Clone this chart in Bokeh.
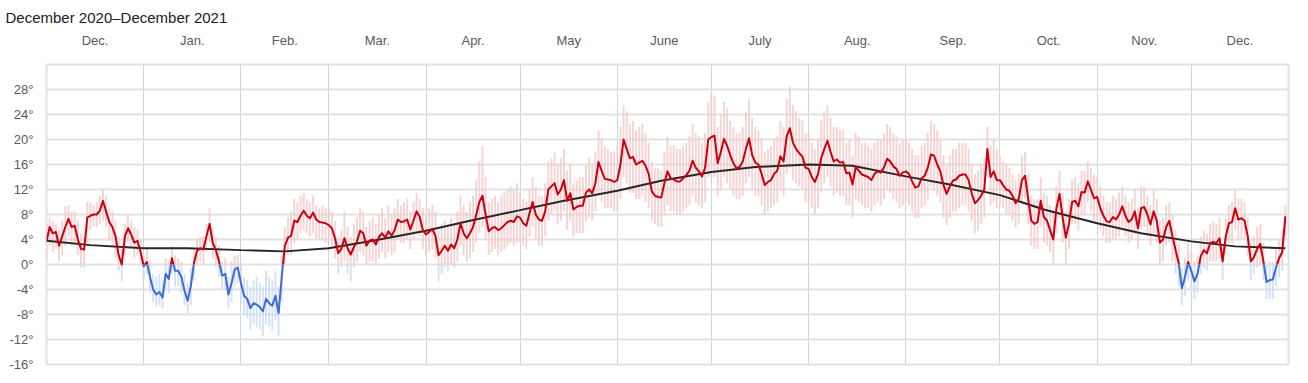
from bokeh.plotting import figure
from bokeh.models import (FixedTicker, PrintfTickFormatter, CustomJSTickFormatter, Range1d)
from bokeh.embed import file_html
from bokeh.resources import INLINE

# ---------------- data (daily, 1 Dec 2020 = day 0) ----------------
month_names = ["Dec.", "Jan.", "Feb.", "Mar.", "Apr.", "May", "June", "July",
               "Aug.", "Sep.", "Oct.", "Nov.", "Dec."]
month_lengths = [31, 31, 28, 31, 30, 31, 30, 31, 31, 30, 31, 30, 31]

mean_dec20 = [3.7,6.0,5.0,5.2,3.0,4.5,6.0,7.3,6.0,6.2,4.0,2.5,2.4,7.5,7.8,8.0,8.0,8.6,10.2,8.5,6.8,6.0,4.5,1.5,0.0,4.5,5.8,4.8,3.5,3.8,2.0]
mean_jan21 = [-0.3,0.4,-2.0,-4.0,-4.8,-4.4,-5.3,-1.5,-2.3,1.0,-1.0,-1.0,-2.0,-4.2,-5.8,-3.5,0.2,2.2,2.6,2.4,4.5,6.5,3.5,2.3,0.5,-1.8,-1.5,-4.8,-3.0,-0.8,-0.5]
mean_feb21 = [-3.0,-5.0,-5.5,-7.0,-6.2,-6.4,-6.8,-7.5,-5.5,-6.2,-6.6,-5.0,-7.8,-2.0,3.0,4.3,4.6,7.0,6.8,7.8,8.6,7.8,7.4,8.3,7.2,6.8,6.7,6.6]
mean_mar21 = [6.3,5.8,4.2,1.8,2.5,4.2,2.6,1.6,2.8,3.7,5.4,5.0,3.0,3.8,4.0,3.2,4.4,5.0,4.3,5.3,4.6,5.5,7.2,6.8,6.9,7.2,5.6,7.0,8.5,7.6,5.5]
mean_apr21 = [4.8,5.2,5.7,4.6,1.5,2.2,3.0,2.2,3.2,2.6,4.0,6.6,5.0,4.2,5.0,6.0,7.9,10.0,11.0,8.0,5.3,5.8,6.0,5.5,5.8,6.3,6.8,7.0,6.8,7.7]
mean_may21 = [7.5,6.6,6.2,8.2,10.0,8.0,7.2,7.0,8.5,12.0,12.5,13.0,11.2,12.0,13.5,10.2,11.4,8.8,9.2,9.4,9.4,11.5,12.0,11.4,13.0,16.4,15.0,13.7,13.6,13.5,13.2]
mean_jun21 = [13.5,16.0,20.0,18.5,17.0,17.2,16.0,16.3,16.6,15.8,14.5,11.7,11.0,10.8,10.7,13.0,14.9,13.8,13.6,13.3,13.3,13.8,14.3,15.0,16.6,15.5,14.9,14.1,15.5,20.0]
mean_jul21 = [20.4,20.6,16.2,18.0,20.1,19.0,17.5,16.2,15.4,15.6,16.5,18.5,20.2,17.5,16.3,16.0,14.5,12.7,13.2,13.5,14.5,15.0,17.3,16.5,20.5,21.8,19.5,18.5,17.8,17.3,15.5]
mean_aug21 = [15.3,14.0,13.2,14.5,17.0,18.5,19.8,18.0,16.5,16.8,16.3,16.4,14.6,14.7,12.8,15.6,15.0,14.4,14.2,14.0,13.5,14.5,14.9,14.7,15.5,16.9,16.5,15.7,15.3,14.2,14.7]
mean_sep21 = [14.9,14.5,13.3,12.3,12.5,13.8,14.2,15.5,17.6,17.4,16.0,14.9,12.7,11.3,12.5,13.4,13.6,14.2,14.4,14.4,13.5,11.4,9.8,10.3,11.0,12.0,18.5,14.0,14.9,13.5]
mean_oct21 = [13.5,12.7,12.0,11.8,11.0,9.8,10.5,13.5,14.2,10.5,7.0,6.5,6.8,10.2,7.6,7.0,5.5,4.0,9.0,11.3,7.5,4.3,6.5,10.0,10.2,9.3,11.6,11.5,13.3,12.0,10.6]
mean_nov21 = [10.8,9.0,7.8,6.9,6.8,7.6,7.2,8.0,9.3,7.8,6.8,7.2,8.5,5.8,9.0,9.2,8.0,6.4,8.5,7.0,3.5,4.0,6.0,7.0,4.5,2.3,0.2,-3.8,-2.0,0.4]
mean_dec21 = [-1.0,-2.7,-1.5,1.3,2.3,1.8,3.4,3.6,3.4,4.2,0.5,4.5,6.6,6.8,9.0,7.2,7.4,7.0,4.5,0.5,1.2,2.5,3.3,0.5,-2.8,-2.5,-2.4,-0.5,1.0,2.0,7.7]

high_dec20 = [6.5,7.5,7.0,6.5,5.5,7.0,9.3,9.5,8.5,8.5,7.0,5.0,4.5,10.0,10.0,9.5,10.0,11.0,12.0,11.0,9.0,8.5,7.0,4.5,2.5,6.5,8.0,7.0,6.0,5.5,4.0]
low_dec20 = [1.0,3.0,2.0,2.5,0.5,1.5,3.0,4.5,3.0,3.0,1.5,-0.5,-0.6,3.5,5.5,6.0,6.0,6.5,7.0,6.0,4.0,3.0,1.0,-1.0,-2.7,1.5,3.5,2.5,1.0,1.5,0.0]
high_jan21 = [1.5,2.5,0.5,-1.5,-2.0,-1.5,-2.5,1.0,0.5,3.0,1.5,1.0,0.5,-1.5,-3.0,-0.5,2.5,4.0,4.5,4.5,6.5,9.0,6.0,4.5,3.0,0.5,1.0,-2.0,0.5,1.5,1.5]
low_jan21 = [-2.5,-1.5,-4.5,-6.0,-6.8,-6.5,-7.0,-4.0,-4.5,-1.5,-3.5,-3.5,-4.5,-6.5,-7.8,-6.5,-2.5,0.0,0.5,0.0,2.0,3.5,1.0,-0.5,-2.0,-4.0,-4.0,-7.0,-6.0,-3.5,-3.0]
high_feb21 = [0.0,-2.0,-2.5,-3.5,-2.5,-2.0,-3.0,-3.5,-1.0,-2.0,-2.5,-1.0,-3.5,1.5,6.0,7.5,8.5,10.5,10.0,11.0,11.5,10.5,10.0,11.0,9.5,9.0,9.5,9.0]
low_feb21 = [-6.5,-8.0,-8.5,-10.5,-9.5,-10.0,-10.5,-11.5,-9.5,-10.0,-10.5,-9.0,-11.5,-6.0,0.0,1.5,1.5,3.5,4.0,5.0,5.5,5.0,4.5,5.0,4.0,4.0,4.0,3.5]
high_mar21 = [9.0,8.5,7.0,4.5,5.5,8.5,6.0,4.5,6.5,7.5,9.0,8.5,6.0,7.0,7.5,6.5,8.0,9.0,7.5,9.5,8.0,9.0,10.5,9.5,10.0,10.5,8.5,10.0,11.5,10.5,9.0]
low_mar21 = [3.5,3.0,1.0,-1.5,-0.5,0.5,-1.5,-2.7,-0.5,0.5,2.0,1.5,0.0,0.5,0.5,0.0,1.0,2.0,1.0,2.0,1.5,2.0,4.0,3.5,3.5,4.0,2.5,4.0,5.0,4.5,2.5]
high_apr21 = [8.0,9.0,9.5,8.5,5.5,6.5,7.0,6.0,7.5,6.5,8.5,11.0,9.5,8.5,10.0,11.0,13.5,16.5,19.0,14.0,10.0,10.5,11.0,10.0,11.0,11.5,12.0,12.5,12.0,13.0]
low_apr21 = [1.5,2.0,2.5,1.0,-2.7,-1.5,-0.5,-1.0,0.0,-0.5,0.5,3.0,1.5,0.5,1.0,2.0,3.5,5.0,6.0,4.0,1.5,2.0,2.5,1.5,2.0,2.5,3.0,3.5,3.0,3.5]
high_may21 = [11.5,10.5,10.0,12.0,14.0,12.5,11.0,11.0,13.0,16.5,17.0,18.0,16.0,17.0,18.5,15.0,16.0,13.0,13.5,14.0,14.0,16.0,17.0,16.0,18.0,21.5,20.0,19.0,18.5,18.0,18.0]
low_may21 = [3.5,3.0,2.5,4.5,6.0,4.0,3.0,3.0,4.5,7.0,8.0,8.5,6.5,7.0,8.5,5.5,7.0,4.5,5.0,5.0,5.0,7.0,7.5,7.0,8.5,11.0,10.0,9.0,9.0,9.0,8.5]
high_jun21 = [19.0,22.0,25.5,24.5,22.5,23.0,21.5,22.0,22.5,21.0,19.5,16.5,15.5,15.5,15.0,18.0,20.5,19.0,19.0,18.5,18.5,19.0,19.5,20.5,22.5,21.0,20.5,19.5,21.0,26.0]
low_jun21 = [8.5,10.5,14.0,13.0,11.5,11.5,10.5,10.5,11.0,10.0,9.0,7.0,6.5,6.0,6.0,8.0,9.5,8.5,8.5,8.0,8.0,8.5,9.0,9.5,11.0,10.0,9.5,9.0,10.0,14.0]
high_jul21 = [27.5,27.0,22.0,24.0,26.0,25.0,23.0,22.0,21.0,21.0,22.0,24.5,26.5,23.5,22.0,21.5,20.0,18.0,18.5,19.0,20.0,20.5,23.0,22.0,26.5,28.5,25.5,24.5,23.5,23.0,21.0]
low_jul21 = [14.0,14.0,11.0,12.0,14.0,13.0,12.0,11.0,10.5,10.5,11.0,13.0,14.0,12.0,11.0,11.0,9.5,8.0,8.5,9.0,9.5,10.0,12.0,11.0,14.5,15.5,13.5,13.0,12.5,12.0,10.0]
high_aug21 = [21.0,19.5,18.5,20.0,23.0,24.5,25.5,23.5,22.0,22.0,21.5,21.5,19.5,20.0,17.5,21.0,20.5,19.5,19.5,19.0,18.5,19.5,20.0,20.0,21.0,22.5,22.0,21.0,20.5,19.5,20.0]
low_aug21 = [10.0,9.0,8.0,9.0,11.5,13.0,14.0,12.5,11.0,11.5,11.0,11.0,9.5,9.5,7.5,10.5,10.0,9.5,9.0,9.0,8.5,9.5,10.0,9.5,10.5,12.0,11.5,10.5,10.0,9.0,9.5]
high_sep21 = [20.0,19.5,18.5,17.5,17.5,19.0,19.5,21.0,23.0,22.5,21.5,20.0,17.5,16.0,17.5,18.5,18.5,19.5,19.5,19.5,18.5,16.0,14.5,15.0,16.0,17.0,22.0,19.0,20.0,18.5]
low_sep21 = [10.0,9.5,8.5,7.5,7.5,9.0,9.5,10.5,12.5,12.0,11.0,10.0,7.5,6.3,7.5,8.5,8.5,9.0,9.5,9.5,8.5,7.0,5.0,5.5,6.5,7.5,14.0,9.5,10.0,9.0]
high_oct21 = [17.5,16.5,16.0,15.5,14.5,13.5,14.5,17.5,18.0,14.5,11.0,10.5,10.5,14.0,11.5,11.0,9.5,8.5,12.5,15.0,11.5,8.5,10.5,13.5,14.0,13.0,15.0,15.0,16.5,15.5,14.5]
low_oct21 = [9.5,9.0,8.0,8.0,7.0,6.0,6.5,9.5,10.5,6.5,3.0,2.5,2.5,6.0,3.5,3.0,2.0,0.0,5.0,7.5,3.5,0.0,2.5,6.5,6.5,5.5,8.0,8.0,10.0,8.5,7.0]
high_nov21 = [14.0,12.5,11.0,10.0,10.0,11.0,10.5,11.5,12.5,11.0,10.0,10.5,12.0,9.0,12.5,12.5,11.0,9.5,12.0,10.5,7.0,7.5,9.5,10.0,8.0,5.5,3.5,-0.5,1.0,3.5]
low_nov21 = [7.0,5.5,4.5,3.5,3.5,4.0,4.0,4.5,6.0,4.5,3.5,4.0,5.0,2.5,5.5,6.0,4.5,3.0,5.0,3.5,0.0,0.5,3.0,3.5,0.5,-1.5,-3.5,-6.5,-5.0,-2.5]
high_dec21 = [2.0,0.5,1.5,4.5,5.5,5.0,6.5,7.0,6.5,7.5,3.5,7.5,9.5,10.0,12.0,10.5,10.5,10.0,7.5,3.5,4.5,6.0,6.5,3.5,0.0,0.5,0.5,2.5,4.0,5.5,9.5]
low_dec21 = [-4.0,-5.5,-4.5,-1.5,-0.5,-1.0,0.5,0.5,0.5,1.0,-2.5,1.5,3.5,3.5,5.5,4.0,4.0,4.0,1.5,-2.5,-1.5,-0.5,0.0,-2.5,-5.5,-5.5,-5.5,-3.5,-2.0,-1.0,4.5]

# normal temperature, read twice a month
normal_days = [0, 14, 31, 45, 62, 76, 90, 104, 121, 135, 151, 165, 182, 196, 212, 226,
               243, 257, 274, 288, 304, 318, 335, 349, 365, 379, 395]
normal_vals = [3.8, 3.1, 2.6, 2.6, 2.3, 2.1, 2.6, 3.8, 5.4, 7.0, 8.7, 10.2, 11.8, 13.4, 14.8, 15.6,
               16.0, 15.8, 14.1, 12.8, 11.1, 8.8, 6.6, 5.0, 3.7, 2.9, 2.6]

y_ticks = [-16, -12, -8, -4, 0, 4, 8, 12, 16, 20, 24, 28]

# ---------------- assemble ----------------
mean = (mean_dec20 + mean_jan21 + mean_feb21 + mean_mar21 + mean_apr21 + mean_may21 +
        mean_jun21 + mean_jul21 + mean_aug21 + mean_sep21 + mean_oct21 + mean_nov21 + mean_dec21)
high = (high_dec20 + high_jan21 + high_feb21 + high_mar21 + high_apr21 + high_may21 +
        high_jun21 + high_jul21 + high_aug21 + high_sep21 + high_oct21 + high_nov21 + high_dec21)
low = (low_dec20 + low_jan21 + low_feb21 + low_mar21 + low_apr21 + low_may21 +
       low_jun21 + low_jul21 + low_aug21 + low_sep21 + low_oct21 + low_nov21 + low_dec21)
days = list(range(len(mean)))

month_starts = [0]
for L in month_lengths:
    month_starts.append(month_starts[-1] + L)
month_mids = [month_starts[i] + month_lengths[i] / 2 for i in range(len(month_lengths))]
total_days = month_starts[-1]

RED = "#c8000f"
BLUE = "#3a6bd9"

p = figure(width=1300, height=375, output_backend="svg", toolbar_location=None,
           x_range=Range1d(0, total_days), y_range=Range1d(-16, 32),
           x_axis_location="above", min_border_left=46, min_border_right=12,
           min_border_top=64, min_border_bottom=11)
p.background_fill_color = "white"
p.border_fill_color = "white"
p.outline_line_color = "#e2e2e4"
p.outline_line_width = 2

p.title.text = "December 2020\u2013December 2021"
p.title.text_font = "Liberation Sans"
p.title.text_font_size = "15px"
p.title.text_font_style = "normal"
p.title.text_color = "#222222"
p.title.align = "left"
p.title.offset = -41
p.title.standoff = 8

# top month axis
xa = p.xaxis[0]
xa.ticker = FixedTicker(ticks=month_mids)
xa.formatter = CustomJSTickFormatter(args=dict(names=month_names), code="return names[index];")
xa.axis_line_color = None
xa.major_tick_line_color = None
xa.minor_tick_line_color = None
xa.major_label_standoff = 11
xa.major_label_text_font = "Liberation Sans"
xa.major_label_text_font_size = "13px"
xa.major_label_text_color = "#5a5a5a"

ya = p.yaxis[0]
ya.ticker = FixedTicker(ticks=y_ticks)
ya.formatter = PrintfTickFormatter(format="%d\u00b0")
ya.axis_line_color = None
ya.major_tick_line_color = None
ya.minor_tick_line_color = None
ya.major_label_standoff = 7
ya.major_label_text_font = "Liberation Sans"
ya.major_label_text_font_size = "13px"
ya.major_label_text_color = "#5a5a5a"

p.xgrid.ticker = FixedTicker(ticks=month_starts)
p.xgrid.grid_line_color = "#cdd5de"
p.xgrid.grid_line_width = 1
p.ygrid.grid_line_color = "#e2e2e4"
p.ygrid.grid_line_width = 2

# daily range bars, split at zero
rx, rb, rt, bx, bb, bt = [], [], [], [], [], []
for d, lo, hi in zip(days, low, high):
    if hi > 0:
        rx.append(d); rb.append(max(lo, 0)); rt.append(hi)
    if lo < 0:
        bx.append(d); bb.append(lo); bt.append(min(hi, 0))
p.vbar(x=rx, bottom=rb, top=rt, width=0.62, fill_color="#f3c9c9", line_color=None, fill_alpha=0.8)
p.vbar(x=bx, bottom=bb, top=bt, width=0.62, fill_color="#ccdaf2", line_color=None, fill_alpha=0.8)

# normal line
p.line(normal_days, normal_vals, line_color="#262626", line_width=2)

# temperature line, red above zero, blue below
pts = []
for i, (d, v) in enumerate(zip(days, mean)):
    if i > 0:
        pv = mean[i - 1]
        if (pv < 0) != (v < 0) and pv != v:
            t = pv / (pv - v)
            pts.append((days[i - 1] + t * (d - days[i - 1]), 0.0))
    pts.append((d, v))
runs = {True: ([], []), False: ([], [])}
cur_sign, cur_x, cur_y = None, [], []
for j in range(len(pts) - 1):
    (x0, y0), (x1, y1) = pts[j], pts[j + 1]
    s = (y0 + y1) / 2 >= 0
    if s != cur_sign:
        if cur_sign is not None:
            runs[cur_sign][0].append(cur_x); runs[cur_sign][1].append(cur_y)
        cur_sign, cur_x, cur_y = s, [x0], [y0]
    cur_x.append(x1); cur_y.append(y1)
runs[cur_sign][0].append(cur_x); runs[cur_sign][1].append(cur_y)

p.multi_line(runs[True][0], runs[True][1], line_color=RED, line_width=2, line_join="round")
p.multi_line(runs[False][0], runs[False][1], line_color=BLUE, line_width=2, line_join="round")

open("out.html", "w").write(file_html(p, INLINE))
